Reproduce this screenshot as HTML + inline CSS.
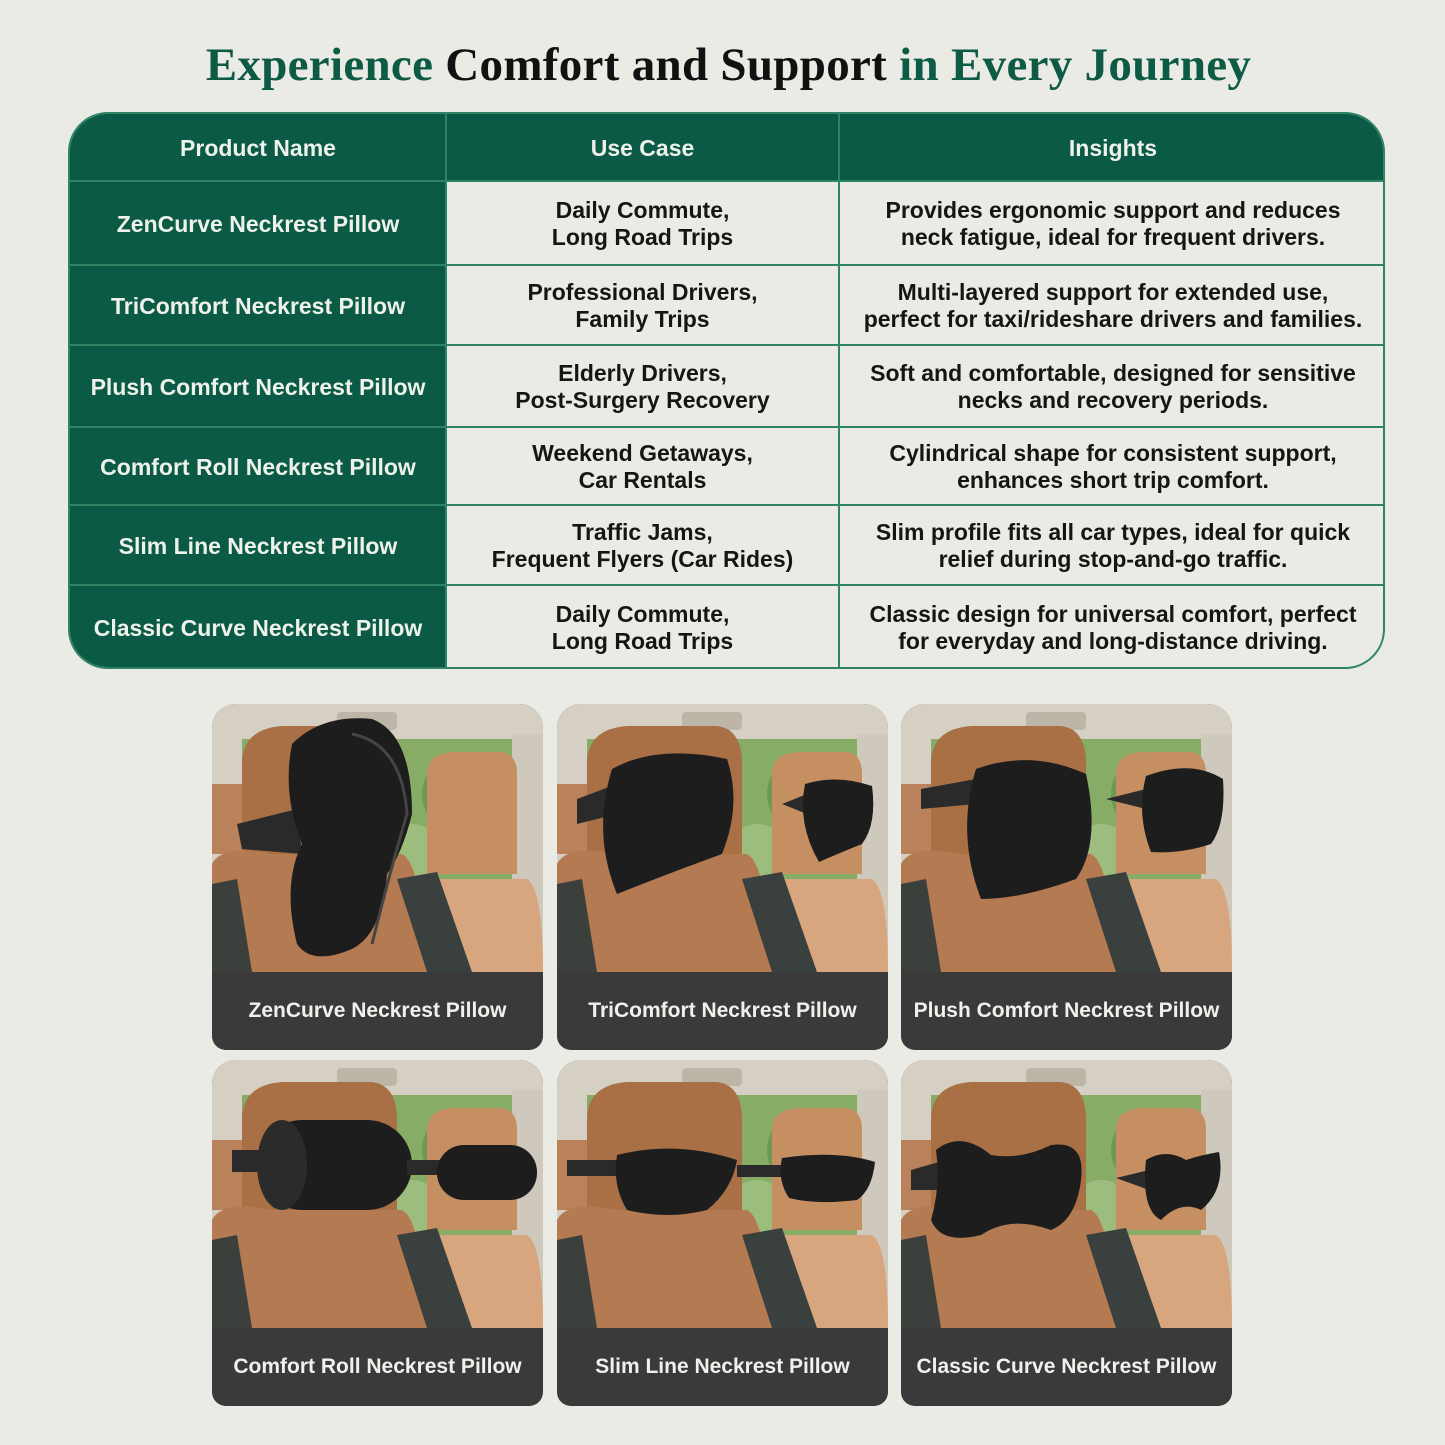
<!DOCTYPE html>
<html><head><meta charset="utf-8"><style>
*{margin:0;padding:0;box-sizing:border-box}
body{width:1445px;height:1445px;background:#ebebe5;position:relative;overflow:hidden;font-family:"Liberation Sans",Arial,sans-serif}
h1{position:absolute;top:38px;left:0;width:1445px;padding-left:12px;text-align:center;font-family:"Liberation Serif",serif;font-size:47px;font-weight:bold;color:#0d5a45;letter-spacing:0.3px}
h1 span{color:#111}
.tbl{position:absolute;left:68px;top:112px;width:1317px;height:557px;border-radius:40px;overflow:hidden;border:2px solid #2f8466;background:#ebebe5}
.c{position:absolute;display:flex;align-items:center;justify-content:center;text-align:center;font-weight:bold;font-size:23px;line-height:27px;color:#151515;padding-top:2px}
.g{background:#0b5a46;color:#eef2ea}
.vl{position:absolute;width:2px;background:#2f8466;top:0;bottom:0}
.hl{position:absolute;height:2px;background:#2f8466;left:0;right:0}
.tile{position:absolute;width:331px;height:346px;border-radius:24px 24px 14px 14px;overflow:hidden;background:#3a3a3a}
.tile svg{position:absolute;left:0;top:0}
.lab{position:absolute;left:0;top:268px;width:331px;height:78px;background:#3a3a3a;border-radius:12px 12px 14px 14px;color:#f0f0ec;font-weight:bold;font-size:21px;display:flex;align-items:center;justify-content:center;white-space:nowrap}
</style></head><body>
<h1>Experience <span>Comfort and Support</span> in Every Journey</h1>
<div class="tbl">
<div class="c g" style="left:0;top:0;width:1317px;height:67px"></div>
<div class="c g" style="left:0;top:0;width:376px;height:67px">Product Name</div>
<div class="c g" style="left:376px;top:0;width:393px;height:67px">Use Case</div>
<div class="c g" style="left:769px;top:0;width:548px;height:67px">Insights</div>
<div class="c g" style="left:0;top:67px;width:376px;height:490px"></div>

<div class="c g" style="left:0;top:67px;width:376px;height:84px">ZenCurve Neckrest Pillow</div>
<div class="c" style="left:376px;top:67px;width:393px;height:84px">Daily Commute,<br>Long Road Trips</div>
<div class="c" style="left:769px;top:67px;width:548px;height:84px">Provides ergonomic support and reduces<br>neck fatigue, ideal for frequent drivers.</div>

<div class="c g" style="left:0;top:151px;width:376px;height:80px">TriComfort Neckrest Pillow</div>
<div class="c" style="left:376px;top:151px;width:393px;height:80px">Professional Drivers,<br>Family Trips</div>
<div class="c" style="left:769px;top:151px;width:548px;height:80px">Multi-layered support for extended use,<br>perfect for taxi/rideshare drivers and families.</div>

<div class="c g" style="left:0;top:231px;width:376px;height:82px">Plush Comfort Neckrest Pillow</div>
<div class="c" style="left:376px;top:231px;width:393px;height:82px">Elderly Drivers,<br>Post-Surgery Recovery</div>
<div class="c" style="left:769px;top:231px;width:548px;height:82px">Soft and comfortable, designed for sensitive<br>necks and recovery periods.</div>

<div class="c g" style="left:0;top:313px;width:376px;height:78px">Comfort Roll Neckrest Pillow</div>
<div class="c" style="left:376px;top:313px;width:393px;height:78px">Weekend Getaways,<br>Car Rentals</div>
<div class="c" style="left:769px;top:313px;width:548px;height:78px">Cylindrical shape for consistent support,<br>enhances short trip comfort.</div>

<div class="c g" style="left:0;top:391px;width:376px;height:80px">Slim Line Neckrest Pillow</div>
<div class="c" style="left:376px;top:391px;width:393px;height:80px">Traffic Jams,<br>Frequent Flyers (Car Rides)</div>
<div class="c" style="left:769px;top:391px;width:548px;height:80px">Slim profile fits all car types, ideal for quick<br>relief during stop-and-go traffic.</div>

<div class="c g" style="left:0;top:471px;width:376px;height:84px">Classic Curve Neckrest Pillow</div>
<div class="c" style="left:376px;top:471px;width:393px;height:84px">Daily Commute,<br>Long Road Trips</div>
<div class="c" style="left:769px;top:471px;width:548px;height:84px">Classic design for universal comfort, perfect<br>for everyday and long-distance driving.</div>

<div class="vl" style="left:375px"></div>
<div class="vl" style="left:768px"></div>
<div class="hl" style="top:66px"></div>
<div class="hl" style="top:150px"></div>
<div class="hl" style="top:230px"></div>
<div class="hl" style="top:312px"></div>
<div class="hl" style="top:390px"></div>
<div class="hl" style="top:470px"></div>
</div>

<svg width="0" height="0" style="position:absolute">
<defs>
<symbol id="bg" viewBox="0 0 331 268">
<rect width="331" height="268" fill="#d6d0c4"/>
<rect x="30" y="35" width="280" height="170" fill="#86ac66"/>
<circle cx="120" cy="70" r="35" fill="#a9c788"/>
<circle cx="250" cy="90" r="40" fill="#6d9a52"/>
<circle cx="200" cy="150" r="30" fill="#9cbd7d"/>
<rect x="300" y="30" width="31" height="238" fill="#cfc9bd"/>
<rect x="125" y="8" width="60" height="18" rx="4" fill="#bdb6a8"/>
<path d="M0 80 H40 V150 H0Z" fill="#b9825a"/>
<path d="M30 60 Q30 25 70 22 H160 Q185 25 185 60 V175 H30Z" fill="#a96f45"/>
<path d="M0 160 Q10 140 60 150 H190 Q210 160 215 268 H0Z" fill="#b47a52"/>
<path d="M0 180 L25 175 L40 268 H0Z" fill="#3b403d"/>
<path d="M215 70 Q215 48 245 48 H290 Q305 50 305 70 V170 H215Z" fill="#c68f62"/>
<path d="M200 175 H315 Q331 185 331 268 H220Z" fill="#d7a67f"/>
<path d="M185 175 L225 168 L260 268 H215Z" fill="#3a403d"/>
</symbol>
</defs>
</svg>

<div class="tile" style="left:212px;top:704px"><svg width="331" height="268" viewBox="0 0 331 268"><use href="#bg"/>
<path d="M25 120 L85 105 L90 150 L30 145Z" fill="#2a2a2a"/>
<path d="M80 40 Q110 10 160 15 Q200 30 200 110 Q190 150 175 170 Q170 230 140 245 Q100 262 85 240 Q70 180 90 140 Q70 90 80 40Z" fill="#1d1d1d"/>
<path d="M140 30 Q190 40 195 110 Q180 160 160 240" stroke="#444" stroke-width="3" fill="none"/></svg>
<div class="lab">ZenCurve Neckrest Pillow</div></div>

<div class="tile" style="left:557px;top:704px"><svg width="331" height="268" viewBox="0 0 331 268"><use href="#bg"/>
<path d="M20 95 L60 80 L60 110 L20 120Z" fill="#2a2a2a"/>
<path d="M55 65 Q100 40 170 55 Q185 100 165 150 Q110 170 60 190 Q35 130 55 65Z" fill="#1d1d1d"/>
<path d="M225 100 L250 90 L250 110Z" fill="#2a2a2a"/>
<path d="M248 80 Q280 70 315 82 Q320 120 305 140 Q280 150 262 158 Q240 120 248 80Z" fill="#1d1d1d"/></svg>
<div class="lab">TriComfort Neckrest Pillow</div></div>

<div class="tile" style="left:901px;top:704px"><svg width="331" height="268" viewBox="0 0 331 268"><use href="#bg"/>
<path d="M20 85 L75 75 L75 100 L20 105Z" fill="#2a2a2a"/>
<path d="M75 65 Q130 45 185 70 Q200 140 175 175 Q120 195 80 195 Q55 130 75 65Z" fill="#1d1d1d"/>
<path d="M205 95 L245 85 L245 105Z" fill="#2a2a2a"/>
<path d="M245 72 Q290 55 322 75 Q325 120 310 140 Q280 150 250 148 Q235 110 245 72Z" fill="#1d1d1d"/></svg>
<div class="lab">Plush Comfort Neckrest Pillow</div></div>

<div class="tile" style="left:212px;top:1060px"><svg width="331" height="268" viewBox="0 0 331 268"><use href="#bg"/>
<rect x="20" y="90" width="50" height="22" fill="#2a2a2a"/>
<rect x="45" y="60" width="155" height="90" rx="45" fill="#1d1d1d"/>
<ellipse cx="70" cy="105" rx="25" ry="45" fill="#2b2b2b"/>
<rect x="195" y="100" width="40" height="15" fill="#2a2a2a"/>
<rect x="225" y="85" width="100" height="55" rx="27" fill="#1d1d1d"/></svg>
<div class="lab">Comfort Roll Neckrest Pillow</div></div>

<div class="tile" style="left:557px;top:1060px"><svg width="331" height="268" viewBox="0 0 331 268"><use href="#bg"/>
<rect x="10" y="100" width="70" height="16" fill="#2a2a2a"/>
<path d="M60 95 Q120 80 180 100 Q175 130 150 150 Q110 160 70 150 Q55 125 60 95Z" fill="#1d1d1d"/>
<rect x="180" y="105" width="50" height="12" fill="#2a2a2a"/>
<path d="M225 98 Q280 90 318 102 Q315 130 300 140 Q260 145 232 138 Q220 120 225 98Z" fill="#1d1d1d"/></svg>
<div class="lab">Slim Line Neckrest Pillow</div></div>

<div class="tile" style="left:901px;top:1060px"><svg width="331" height="268" viewBox="0 0 331 268"><use href="#bg"/>
<path d="M10 110 L45 100 L45 130 L10 130Z" fill="#2a2a2a"/>
<path d="M35 90 Q60 70 90 95 Q120 100 150 85 Q185 80 180 120 Q175 160 150 170 Q110 155 80 175 Q40 185 30 160 Q40 125 35 90Z" fill="#1d1d1d"/>
<path d="M215 118 L248 110 L248 130Z" fill="#2a2a2a"/>
<path d="M245 100 Q265 88 285 100 Q300 95 318 92 Q325 130 300 150 Q280 140 260 160 Q240 150 245 100Z" fill="#1d1d1d"/></svg>
<div class="lab">Classic Curve Neckrest Pillow</div></div>
</body></html>
